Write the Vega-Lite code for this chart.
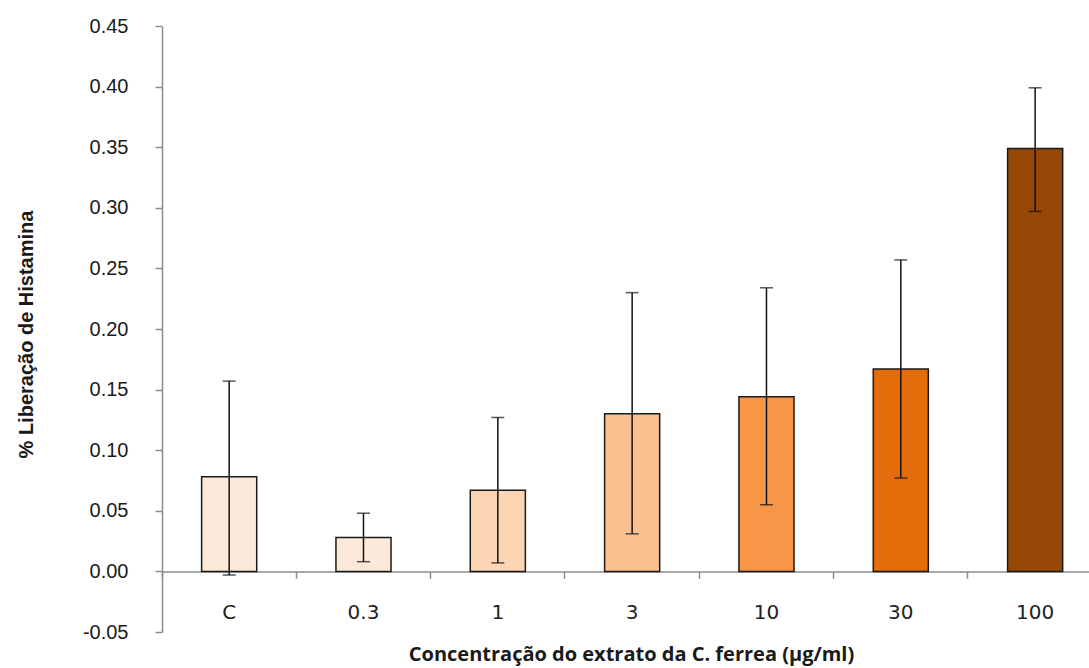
{
  "$schema": "https://vega.github.io/schema/vega-lite/v6.json",
  "autosize": {"type": "none"},
  "padding": {"left": 162, "top": 26, "right": 0, "bottom": 36},
  "width": 927,
  "height": 606,
  "background": "white",
  "config": {"view": {"stroke": null}},
  "data": {"values": [
    {"conc": "C", "value": 0.078, "lo": -0.003, "hi": 0.157},
    {"conc": "0.3", "value": 0.028, "lo": 0.008, "hi": 0.048},
    {"conc": "1", "value": 0.067, "lo": 0.007, "hi": 0.127},
    {"conc": "3", "value": 0.130, "lo": 0.031, "hi": 0.230},
    {"conc": "10", "value": 0.144, "lo": 0.055, "hi": 0.234},
    {"conc": "30", "value": 0.167, "lo": 0.077, "hi": 0.257},
    {"conc": "100", "value": 0.349, "lo": 0.297, "hi": 0.399}
  ]},
  "encoding": {
    "x": {
      "field": "conc", "type": "nominal", "sort": null,
      "scale": {"domain": ["C", "0.3", "1", "3", "10", "30", "100"], "range": [0, 940.3], "paddingInner": 0, "paddingOuter": 0},
      "axis": {
        "title": "Concentração do extrato da C. ferrea (µg/ml)",
        "titleFont": "Open Sans", "titleFontWeight": "bold", "titleFontSize": 20, "titleColor": "#1a1a1a",
        "titleX": 469, "titleY": 83, "titleBaseline": "middle", "titleAlign": "center",
        "offset": -60.6,
        "labelAngle": 0,
        "labelFont": "DejaVu Sans", "labelFontSize": 20, "labelColor": "#222222",
        "labelPadding": 24,
        "bandPosition": 0,
        "tickSize": 7, "tickColor": "#8c8c8c", "tickWidth": 1.5,
        "domainColor": "#8c8c8c", "domainWidth": 1.5,
        "grid": false
      }
    }
  },
  "layer": [
    {
      "mark": {"type": "bar", "width": {"band": 0.41}, "stroke": "#1a1a1a", "strokeWidth": 1.5},
      "encoding": {
        "y": {
          "field": "value", "type": "quantitative",
          "scale": {"domain": [-0.05, 0.45], "nice": false, "zero": false},
          "axis": {
            "title": "% Liberação de Histamina",
            "titleFont": "Liberation Sans", "titleFontWeight": "bold", "titleFontSize": 20, "titleColor": "#1a1a1a",
            "titleX": -136, "titleY": 308, "titleAngle": -90, "titleAlign": "center", "titleBaseline": "middle",
            "values": [-0.05, 0, 0.05, 0.1, 0.15, 0.2, 0.25, 0.3, 0.35, 0.4, 0.45],
            "format": ".2f",
            "labelExpr": "replace(datum.label, '\u2212', '-')",
            "labelFont": "Liberation Sans", "labelFontSize": 20, "labelColor": "#1a1a1a",
            "labelPadding": 27,
            "tickSize": 7, "tickColor": "#8c8c8c", "tickWidth": 1.5,
            "domainColor": "#8c8c8c", "domainWidth": 1.5,
            "grid": false
          }
        },
        "y2": {"datum": 0},
        "color": {
          "field": "conc", "type": "nominal",
          "scale": {"domain": ["C", "0.3", "1", "3", "10", "30", "100"], "range": ["#fde9d9", "#fde9d9", "#fcd5b5", "#fac090", "#f79646", "#e46c0a", "#974706"]},
          "legend": null
        }
      }
    },
    {
      "mark": {"type": "rule", "color": "#111111", "strokeWidth": 1.5},
      "encoding": {
        "y": {"field": "lo", "type": "quantitative"},
        "y2": {"field": "hi"}
      }
    },
    {
      "mark": {"type": "tick", "color": "#111111", "thickness": 1.5, "size": 13},
      "encoding": {"y": {"field": "lo", "type": "quantitative"}}
    },
    {
      "mark": {"type": "tick", "color": "#111111", "thickness": 1.5, "size": 13},
      "encoding": {"y": {"field": "hi", "type": "quantitative"}}
    }
  ]
}
